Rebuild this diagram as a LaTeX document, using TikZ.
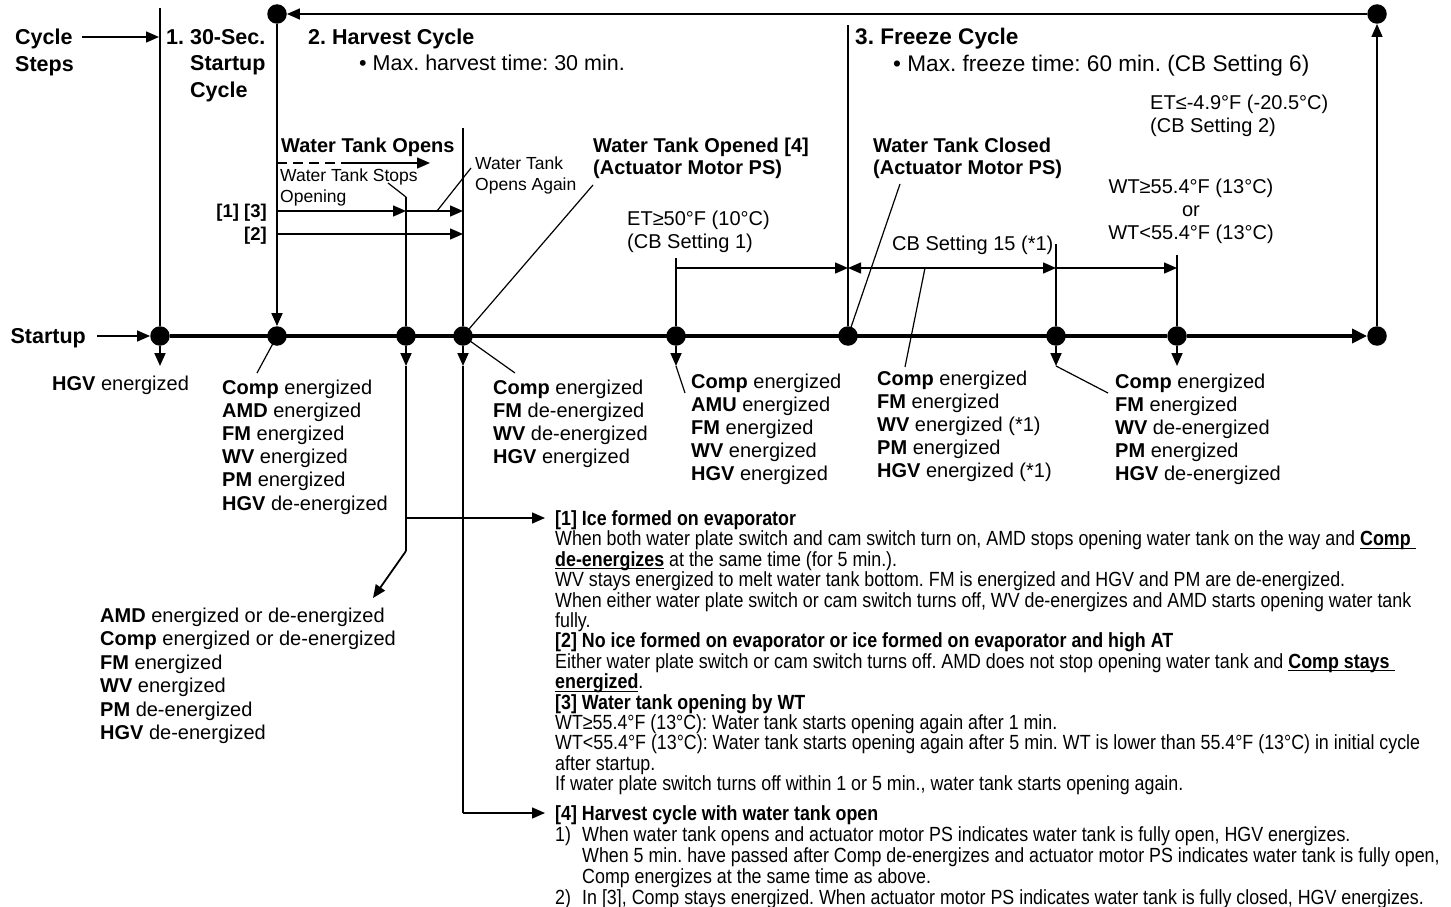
\documentclass[tikz,border=0pt]{standalone}
\usepackage{fontspec}
\setmainfont{Liberation Sans}
\newfontfamily\notefont[FakeStretch=0.87]{Liberation Sans}
\usepackage{tikz}
\usetikzlibrary{arrows.meta,calc}
\frenchspacing
\newsavebox\ulbox
\newcommand\ulbf[1]{\sbox\ulbox{\textbf{#1}}\rlap{\rule[-3.2pt]{\wd\ulbox}{1.3pt}}\usebox\ulbox}

\begin{document}
\begin{tikzpicture}[x=1pt,y=-1pt,line join=miter,
  dotnode/.style={circle,fill=black,inner sep=0pt,minimum size=19.5pt},
  axisline/.style={line width=3.6pt},
  vline/.style={line width=1.8pt},
  hline/.style={line width=1.5pt},
  ptr/.style={line width=1.2pt},
  arr/.style={-{Triangle[length=13pt,width=11pt]}},
  bigarr/.style={-{Triangle[length=15pt,width=14pt]}},
  dblarr/.style={{Triangle[length=13pt,width=11pt]}-{Triangle[length=13pt,width=11pt]}},
  big/.style={inner sep=0pt,align=left,font=\fontsize{21.5}{26.5}\selectfont\bfseries},
  sub/.style={inner sep=0pt,font=\fontsize{21.5}{26.5}\selectfont},
  txt/.style={inner sep=0pt,align=left,font=\fontsize{20}{23.2}\selectfont},
  bold20/.style={inner sep=0pt,align=left,font=\fontsize{20}{22.5}\selectfont\bfseries},
  small/.style={inner sep=0pt,align=left,font=\fontsize{17.5}{21}\selectfont},
  note/.style={inner sep=0pt,align=left,anchor=north west,font=\notefont\fontsize{20.5}{20.4}\selectfont}]
\useasboundingbox (0,0) rectangle (1451,907);

% dots on the time line
\node[dotnode] (d0) at (160,336) {};
\node[dotnode] (d1) at (277,336) {};
\node[dotnode] (d2) at (406,336) {};
\node[dotnode] (d3) at (463,336) {};
\node[dotnode] (d4) at (676,336) {};
\node[dotnode] (d5) at (848,336) {};
\node[dotnode] (d6) at (1056,336) {};
\node[dotnode] (d7) at (1177,336) {};
\node[dotnode] (d8) at (1377,336) {};
\node[dotnode] (t1) at (277,14) {};
\node[dotnode] (t8) at (1377,14) {};

% coordinates
\coordinate (v0) at (160,8);
\coordinate (v2) at (406,197);
\coordinate (v3) at (463,128);
\coordinate (v4) at (676,258);
\coordinate (v5) at (848,25);
\coordinate (v6) at (1056,244);
\coordinate (v7) at (1177,255);
\foreach \n/\x in {0/160,2/406,3/463,4/676,6/1056,7/1177}
  \coordinate (b\n) at (\x,366);
\coordinate (k1) at (406,518);
\coordinate (k2) at (406,551);
\coordinate (amd) at (373,598);
\coordinate (k3) at (463,813);
\coordinate (n1) at (545,518);
\coordinate (n4) at (545,813);
\coordinate (st) at (97,336);
\coordinate (cs1) at (82,37);
\coordinate (cs2) at (159,37);

% main lines
\draw[axisline] (d0) -- (d7);
\draw[axisline,bigarr] (d7) -- (d8);
\draw[hline,arr] (t8) -- (t1);
\draw[hline,arr] (d8) -- (t8);
\draw[hline,arr] (st) -- (d0);
\draw[hline,arr] (cs1) -- (cs2);
\draw[vline] (v0) -- (d0);
\draw[vline,arr] (t1) -- (d1);
\draw[vline] (v2) -- (d2);
\draw[vline] (v3) -- (d3);
\draw[vline] (v4) -- (d4);
\draw[vline] (v5) -- (d5);
\draw[vline] (v6) -- (d6);
\draw[vline] (v7) -- (d7);
\foreach \n in {0,2,3,4,6,7}
  \draw[vline,arr] (d\n) -- (b\n);
\draw[vline] (b2) -- (k2);
\draw[vline,arr] (k2) -- (amd);
\draw[hline,arr] (k1) -- (n1);
\draw[vline] (b3) -- (k3);
\draw[hline,arr] (k3) -- (n4);

% harvest arrows
\coordinate (wo0) at (277,163);
\coordinate (wo1) at (347,163);
\coordinate (wo2) at (430,163);
\coordinate (a13s) at (277,211);
\coordinate (a13m) at (406,211);
\coordinate (a13e) at (463,211);
\coordinate (a2s) at (277,234);
\coordinate (a2e) at (463,234);
\draw[hline,dash pattern=on 10pt off 6pt] (wo0) -- (wo1);
\draw[hline,arr] (wo1) -- (wo2);
\draw[hline,arr] (a13s) -- (a13m);
\draw[hline,arr] (a13m) -- (a13e);
\draw[hline,arr] (a2s) -- (a2e);

% freeze arrows
\coordinate (h4) at (676,268);
\coordinate (h5) at (848,268);
\coordinate (h6) at (1056,268);
\coordinate (h7) at (1177,268);
\draw[hline,arr] (h4) -- (h5);
\draw[hline,dblarr] (h5) -- (h6);
\draw[hline,arr] (h6) -- (h7);

% pointers
\coordinate (ps1) at (388,183);
\coordinate (pa1) at (437,211);
\coordinate (pa2) at (471,168);
\coordinate (po) at (593,185);
\coordinate (pb3) at (515,373);
\coordinate (pb1) at (257,373);
\coordinate (pb4) at (685,393);
\coordinate (pc) at (900,184);
\coordinate (pcb) at (925,268);
\coordinate (pb5) at (905,367);
\coordinate (pb6) at (1108,393);
\draw[ptr] (ps1) -- (v2);
\draw[ptr] (pa1) -- (pa2);
\draw[ptr] (d3.center) -- (po);
\draw[ptr] (d3.center) -- (pb3);
\draw[ptr] (d1.center) -- (pb1);
\draw[ptr] (b4) -- (pb4);
\draw[ptr] (d5.center) -- (pc);
\draw[ptr] (pcb) -- (pb5);
\draw[ptr] (b6) -- (pb6);

% headings
\node[big,anchor=north west] (steps) at (15,29) {Cycle\\Steps};
\node[big,anchor=north west] (c1) at (166,29) {1. 30-Sec.\\\hspace*{24pt}Startup\\\hspace*{24pt}Cycle};
\node[big,anchor=base west] (c2) at (308,44.7) {2. Harvest Cycle};
\node[sub,anchor=base west] (c2max) at (359,70.7) {• Max. harvest time: 30 min.};
\node[big,anchor=base west,font=\fontsize{22.6}{26.5}\selectfont\bfseries] (c3) at (855,45) {3. Freeze Cycle};
\node[sub,anchor=base west,font=\fontsize{22.6}{26.5}\selectfont] (c3max) at (893,71) {• Max. freeze time: 60 min. (CB Setting 6)};
\node[big,anchor=base east] (startup) at (86,343.7) {Startup};

% labels above the time line
\node[bold20,anchor=base west] (wto) at (281,152.2) {Water Tank Opens};
\node[small,anchor=north west] (stops) at (280,168.5) {Water Tank Stops\\Opening};
\node[small,anchor=north west] (again) at (475,156.5) {Water Tank\\Opens Again};
\node[inner sep=0pt,anchor=base east,font=\fontsize{18.5}{22}\selectfont\bfseries] (l13) at (267,217.5) {[1] [3]};
\node[inner sep=0pt,anchor=base east,font=\fontsize{18.5}{22}\selectfont\bfseries] (l2) at (267,240.5) {[2]};
\node[bold20,anchor=north west] (wtopened) at (593,137.5) {Water Tank Opened [4]\\(Actuator Motor PS)};
\node[bold20,anchor=north west] (wtclosed) at (873,137.5) {Water Tank Closed\\(Actuator Motor PS)};
\node[txt,anchor=north west] (et50) at (627,210.5) {ET≥50°F (10°C)\\(CB Setting 1)};
\node[txt,anchor=north west] (et49) at (1150,94.5) {ET≤-4.9°F (-20.5°C)\\(CB Setting 2)};
\node[txt,align=center,anchor=north] (wt) at (1191,178.5) {WT≥55.4°F (13°C)\\or\\WT<55.4°F (13°C)};
\node[txt,anchor=base west] (cb15) at (892,250.2) {CB Setting 15 (*1)};

% labels below the time line
\node[txt,anchor=base west] (hgv0) at (52,390.2) {\textbf{HGV} energized};
\node[txt,anchor=north west] (s1) at (222,379.5) {\textbf{Comp} energized\\\textbf{AMD} energized\\\textbf{FM} energized\\\textbf{WV} energized\\\textbf{PM} energized\\\textbf{HGV} de-energized};
\node[txt,anchor=north west] (s3) at (493,379.5) {\textbf{Comp} energized\\\textbf{FM} de-energized\\\textbf{WV} de-energized\\\textbf{HGV} energized};
\node[txt,anchor=north west] (s4) at (691,373.5) {\textbf{Comp} energized\\\textbf{AMU} energized\\\textbf{FM} energized\\\textbf{WV} energized\\\textbf{HGV} energized};
\node[txt,anchor=north west] (s5) at (877,370.5) {\textbf{Comp} energized\\\textbf{FM} energized\\\textbf{WV} energized (*1)\\\textbf{PM} energized\\\textbf{HGV} energized (*1)};
\node[txt,anchor=north west] (s7) at (1115,373.5) {\textbf{Comp} energized\\\textbf{FM} energized\\\textbf{WV} de-energized\\\textbf{PM} energized\\\textbf{HGV} de-energized};
\node[txt,anchor=north west,font=\fontsize{20}{23.5}\selectfont] (s2) at (100,607.5) {\textbf{AMD} energized or de-energized\\\textbf{Comp} energized or de-energized\\\textbf{FM} energized\\\textbf{WV} energized\\\textbf{PM} de-energized\\\textbf{HGV} de-energized};

% notes
\node[note] (note1) at (555,510.4) {\textbf{[1] Ice formed on evaporator}\\
When both water plate switch and cam switch turn on, AMD stops opening water tank on the way and \ulbf{Comp }\\
\ulbf{de-energizes} at the same time (for 5 min.).\\
WV stays energized to melt water tank bottom. FM is energized and HGV and PM are de-energized.\\
When either water plate switch or cam switch turns off, WV de-energizes and AMD starts opening water tank\\
fully.\\
\textbf{[2] No ice formed on evaporator or ice formed on evaporator and high AT}\\
Either water plate switch or cam switch turns off. AMD does not stop opening water tank and \ulbf{Comp stays }\\
\ulbf{energized}.\\
\textbf{[3] Water tank opening by WT}\\
WT≥55.4°F (13°C): Water tank starts opening again after 1 min.\\
WT<55.4°F (13°C): Water tank starts opening again after 5 min. WT is lower than 55.4°F (13°C) in initial cycle\\
after startup.\\
If water plate switch turns off within 1 or 5 min., water tank starts opening again.};
\node[note,font=\notefont\fontsize{20.5}{21}\selectfont] (note4) at (555,805.4) {\textbf{[4] Harvest cycle with water tank open}\\
\makebox[27pt][l]{1)}When water tank opens and actuator motor PS indicates water tank is fully open, HGV energizes.\\
\hspace*{27pt}When 5 min. have passed after Comp de-energizes and actuator motor PS indicates water tank is fully open,\\
\hspace*{27pt}Comp energizes at the same time as above.\\
\makebox[27pt][l]{2)}In [3], Comp stays energized. When actuator motor PS indicates water tank is fully closed, HGV energizes.};
\end{tikzpicture}
\end{document}
